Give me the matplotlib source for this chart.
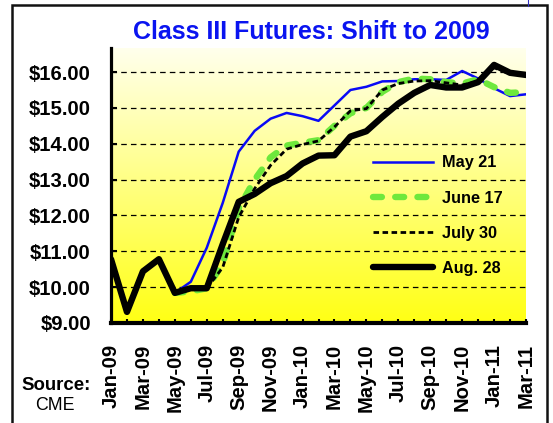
import numpy as np
import matplotlib
matplotlib.use("Agg")
import matplotlib.pyplot as plt
from matplotlib.patches import Rectangle
from matplotlib.lines import Line2D

plt.rcParams['font.family'] = ['Liberation Sans', 'DejaVu Sans']
plt.rcParams['lines.scale_dashes'] = False

months = ["Jan-09", "Feb-09", "Mar-09", "Apr-09", "May-09", "Jun-09", "Jul-09", "Aug-09",
          "Sep-09", "Oct-09", "Nov-09", "Dec-09", "Jan-10", "Feb-10", "Mar-10", "Apr-10",
          "May-10", "Jun-10", "Jul-10", "Aug-10", "Sep-10", "Oct-10", "Nov-10", "Dec-10",
          "Jan-11", "Feb-11", "Mar-11"]

# series values (None = no data)
may21 = [None, None, None, None, 9.84, 10.15, 11.10, 12.35, 13.78, 14.36, 14.70, 14.86,
         14.77, 14.64, 15.07, 15.50, 15.59, 15.74, 15.75, 15.80, 15.80, 15.78, 16.03,
         15.82, 15.55, 15.33, 15.38]
june17 = [None, None, None, None, 9.84, 9.88, 9.97, 10.65, 12.20, 13.00, 13.62, 13.95,
          14.03, 14.10, 14.50, 14.85, 15.00, 15.45, 15.72, 15.82, 15.80, 15.72, 15.68,
          15.80, 15.58, 15.42, 15.44]
july30 = [None, None, None, None, None, None, 9.97, 10.55, 11.95, 12.75, 13.40, 13.85,
          13.98, 14.08, 14.47, 14.92, 14.98, 15.50, 15.68, 15.75, 15.76, 15.70, 15.64,
          15.74, 16.12, 15.95, 15.90]
aug28 = [10.78, 9.31, 10.44, 10.78, 9.84, 9.97, 9.97, 11.20, 12.38, 12.60, 12.90, 13.10,
         13.45, 13.67, 13.68, 14.20, 14.35, 14.75, 15.12, 15.42, 15.64, 15.57, 15.57,
         15.72, 16.20, 15.98, 15.92]

series_labels = ["May 21", "June 17", "July 30", "Aug. 28"]
y_ticks = [9, 10, 11, 12, 13, 14, 15, 16]
title = "Class III Futures: Shift to 2009"

W, H = 553, 423
fig = plt.figure(figsize=(W / 100, H / 100), dpi=100)
fig.patch.set_facecolor('white')

L, R, T, B = 111, 526, 47.7, 323
ax = fig.add_axes([L / W, 1 - B / H, (R - L) / W, (B - T) / H])

x = np.arange(len(months))
ymin, ymax = 9, 16.68
ax.set_xlim(0, len(months) - 1)
ax.set_ylim(ymin, ymax)

# gradient background
grad = np.linspace(0, 1, 256).reshape(-1, 1)
top = np.array([1.0, 1.0, 0.93])
bot = np.array([1.0, 1.0, 0.08])
img = top[None, None, :] * (1 - grad[:, :, None]) + bot[None, None, :] * grad[:, :, None]
ax.imshow(img, extent=[0, len(months) - 1, ymin, ymax], aspect='auto', zorder=0,
          interpolation='bilinear')

# gridlines
for yv in y_ticks[1:]:
    ax.axhline(yv, color='black', lw=0.9, linestyle=(0, (4, 3)), zorder=1)


def arr(v):
    return np.array([np.nan if a is None else a for a in v], dtype=float)


l1, = ax.plot(x, arr(may21), color='#0A0AF5', lw=1.8, zorder=2,
              solid_joinstyle='round', label=series_labels[0])
l2, = ax.plot(x, arr(june17), color='#6EE83C', lw=4.6, zorder=3,
              dash_capstyle='round', dash_joinstyle='round', label=series_labels[1])
l2.set_dashes([6.4, 9.6])
l3, = ax.plot(x, arr(july30), color='black', lw=2.0, zorder=4,
              dash_capstyle='butt', label=series_labels[2])
l3.set_dashes([4, 2.5])
l4, = ax.plot(x, arr(aug28), color='black', lw=4.6, zorder=5,
              solid_joinstyle='round', solid_capstyle='round', label=series_labels[3])

leg = ax.legend(handles=[l1, l2, l3, l4], loc='center left',
                bbox_to_anchor=(0.632, 0.39), frameon=False,
                prop={'weight': 'bold', 'size': 11.7}, handlelength=3.7,
                handletextpad=0.5, labelspacing=1.24, borderpad=0, borderaxespad=0)
for t in leg.get_texts():
    t.set_color('black')

# axes styling
for s in ['top', 'right']:
    ax.spines[s].set_visible(False)
ax.spines['left'].set_linewidth(2.3)
ax.spines['bottom'].set_linewidth(3.0)
ax.spines['left'].set_zorder(6)
ax.spines['bottom'].set_zorder(6)

ax.set_yticks(y_ticks)
ax.set_yticklabels([f"${v:.2f}" for v in y_ticks], fontsize=14.6, fontweight='bold')
ax.tick_params(axis='y', direction='in', length=4, width=1.5, pad=14.5)

ax.set_xticks(x[::2])
ax.set_xticklabels(months[::2], rotation=90, fontsize=14.6, fontweight='bold')
ax.set_xticks(x, minor=True)
ax.tick_params(axis='x', which='both', direction='in', length=3, width=1.5, pad=15)

fig.text(311 / W, 1 - 32 / H, title, color='#0A14F0', fontsize=18, fontweight='bold',
         ha='center', va='center')
fig.text(56 / W, 1 - 385 / H, "Source:", fontsize=13.4, fontweight='bold',
         ha='center', va='center')
fig.text(55 / W, 1 - 405 / H, "CME", fontsize=12.8, ha='center', va='center')

# outer frame
fig.add_artist(Rectangle((12 / W, -0.05), (547 - 12) / W, 1.05 - 4.7 / H,
                         transform=fig.transFigure, fill=False, lw=1.8, ec='#111111'))
fig.add_artist(Line2D([528 / W, 528 / W], [1, 1 - 6 / H], transform=fig.transFigure,
                      color='#3030C0', lw=0.8))

fig.savefig("out.png", dpi=100)
